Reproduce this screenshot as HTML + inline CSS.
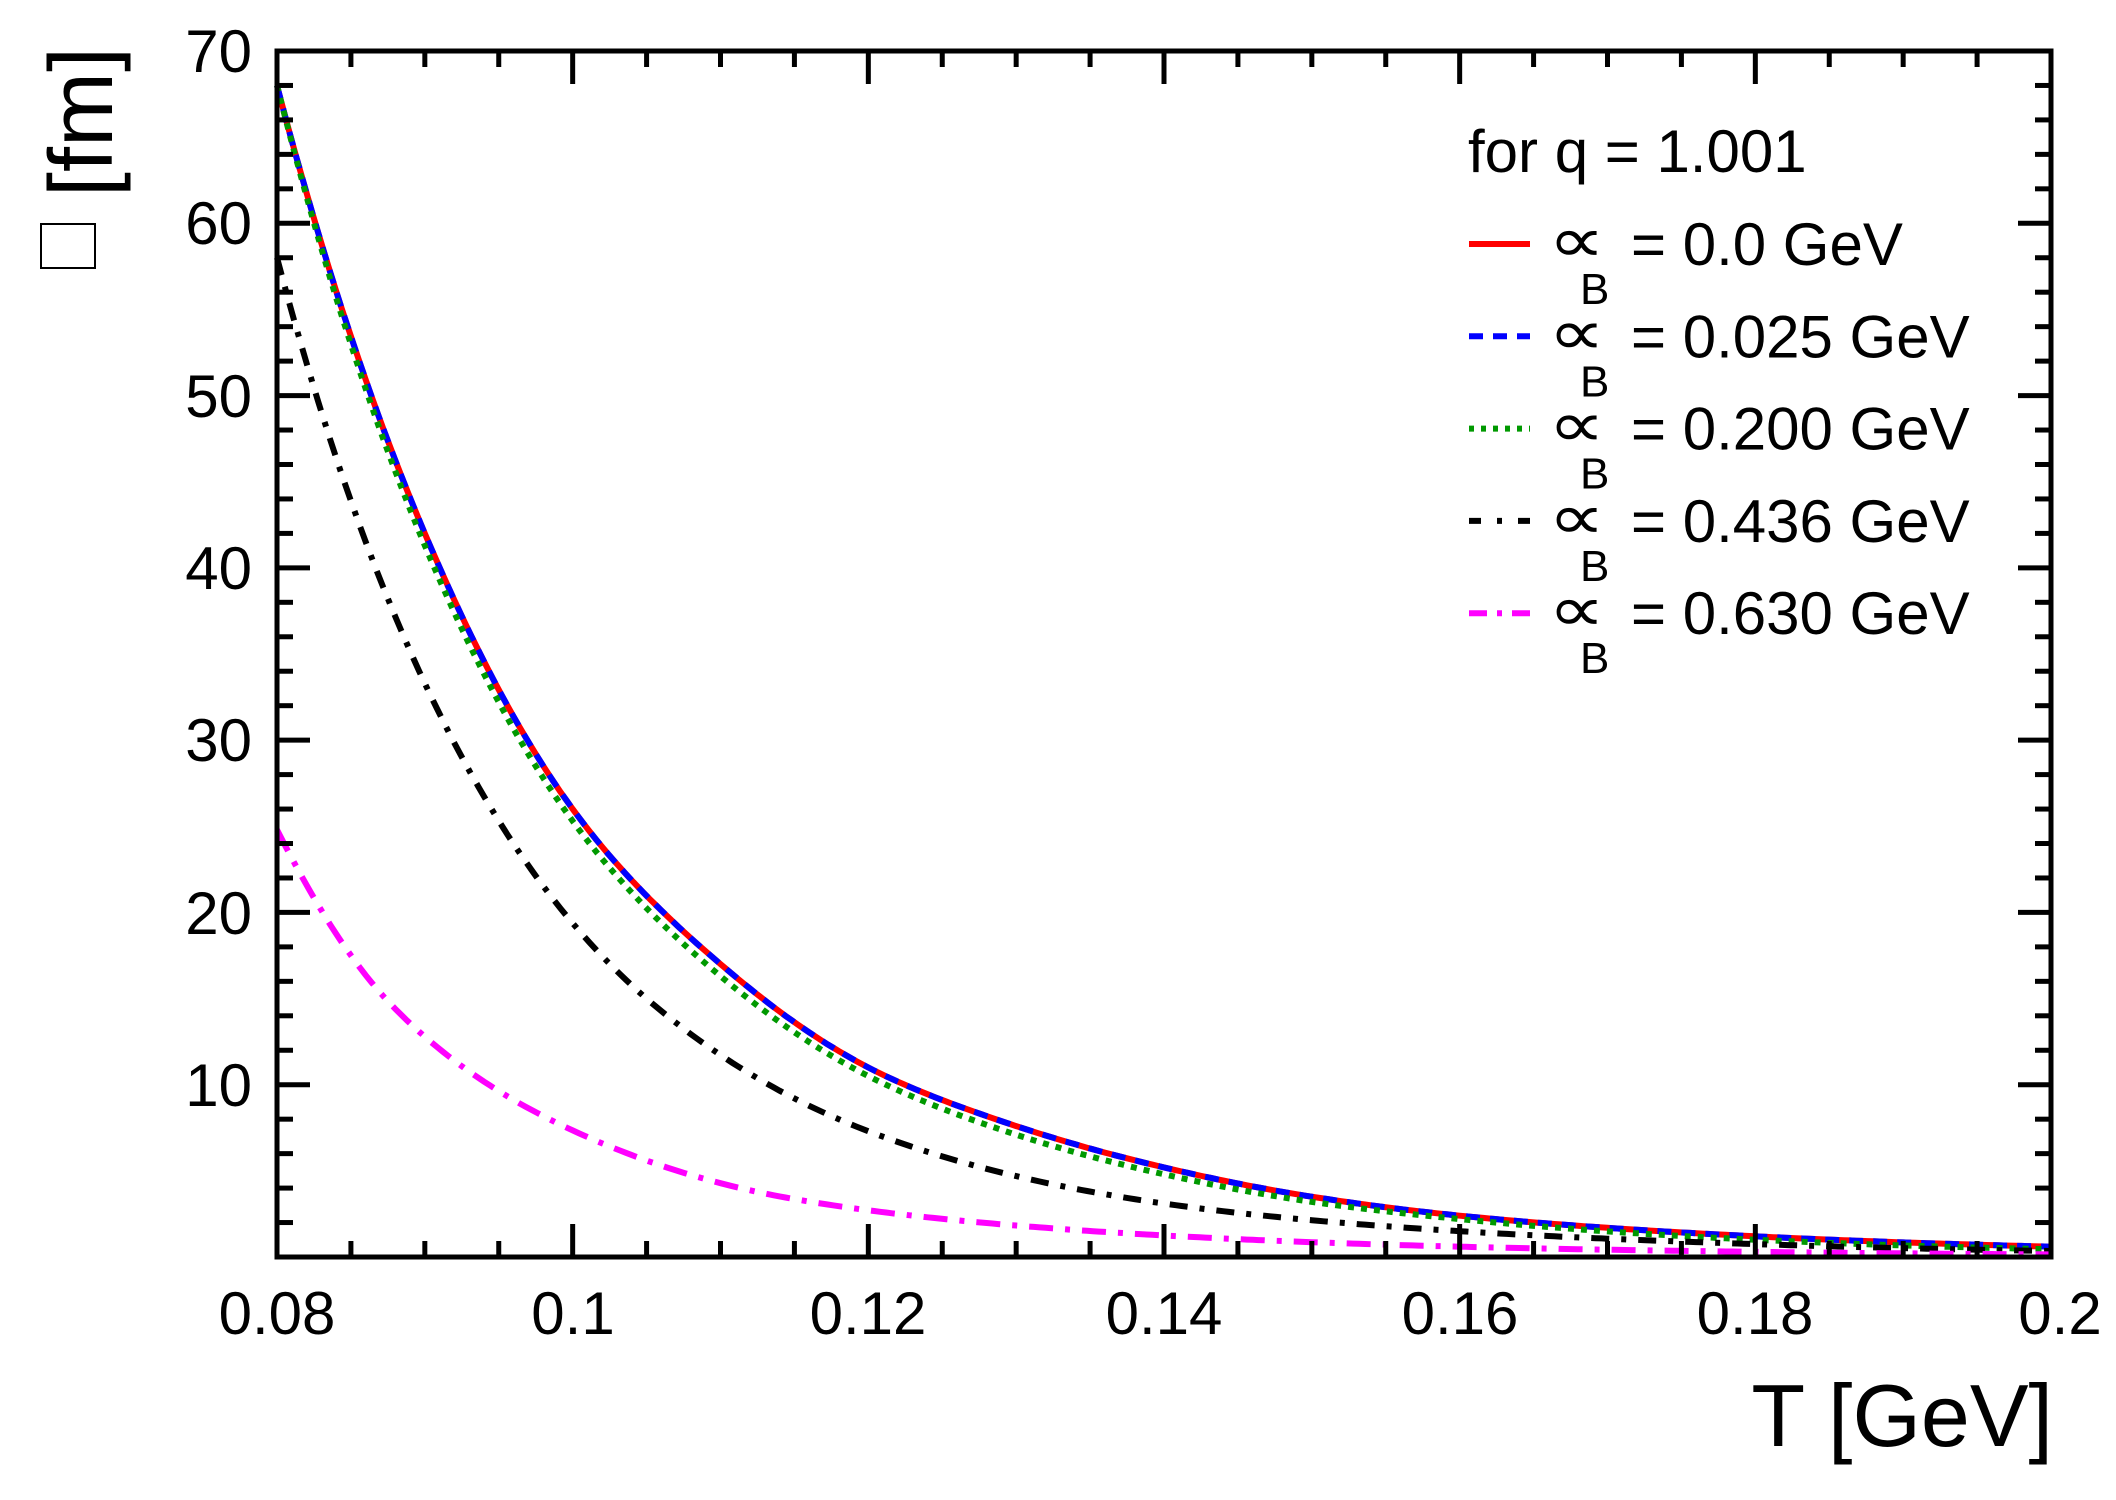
<!DOCTYPE html>
<html><head><meta charset="utf-8"><style>html,body{margin:0;padding:0;background:#fff}svg{display:block}</style></head>
<body>
<svg id="s" width="2116" height="1500" viewBox="0 0 2116 1500" xmlns="http://www.w3.org/2000/svg" font-family="Liberation Sans, Arial, sans-serif">
<rect width="2116" height="1500" fill="#fff"/>
<g id="curves" fill="none" stroke-width="6"></g>
<rect x="277" y="51" width="1774" height="1206" fill="none" stroke="#000" stroke-width="5"/>
<g id="ticks" stroke="#000" stroke-width="5"></g>
<g font-size="60" fill="#000">
<text x="277" y="1334" text-anchor="middle">0.08</text>
<text x="573" y="1334" text-anchor="middle">0.1</text>
<text x="868" y="1334" text-anchor="middle">0.12</text>
<text x="1164" y="1334" text-anchor="middle">0.14</text>
<text x="1460" y="1334" text-anchor="middle">0.16</text>
<text x="1755" y="1334" text-anchor="middle">0.18</text>
<text x="2060" y="1334" text-anchor="middle">0.2</text>
<text x="252" y="1106" text-anchor="end">10</text>
<text x="252" y="934" text-anchor="end">20</text>
<text x="252" y="761" text-anchor="end">30</text>
<text x="252" y="589" text-anchor="end">40</text>
<text x="252" y="417" text-anchor="end">50</text>
<text x="252" y="244" text-anchor="end">60</text>
<text x="252" y="72" text-anchor="end">70</text>
</g>
<text x="2053" y="1446" text-anchor="end" font-size="88">T [GeV]</text>
<text transform="translate(112,47) rotate(-90)" text-anchor="end" font-size="90">[fm]</text>
<rect x="41" y="224" width="54" height="44" fill="#fff" stroke="#000" stroke-width="2"/>
<text x="1468" y="172" font-size="60">for q = 1.001</text>
<g id="leg" font-size="60"></g>
</svg>
<script>
var X0=277,X1=2051,Y0=1257,Y1=51;
function px(t){return X0+(t-0.08)/0.12*(X1-X0);}
function py(v){return Y0-v/70*(Y0-Y1);}
var ticks=document.getElementById('ticks'),h='';
for(var i=0;i<=24;i++){var t=0.08+i*0.005,x=px(t),L=(i%4==0)?33:16;
 h+='<line x1="'+x+'" y1="'+Y0+'" x2="'+x+'" y2="'+(Y0-L)+'"/>';
 h+='<line x1="'+x+'" y1="'+Y1+'" x2="'+x+'" y2="'+(Y1+L)+'"/>';}
for(var j=0;j<=35;j++){var y=py(j*2),L=(j%5==0)?33:16;
 h+='<line x1="'+X0+'" y1="'+y+'" x2="'+(X0+L)+'" y2="'+y+'"/>';
 h+='<line x1="'+X1+'" y1="'+y+'" x2="'+(X1-L)+'" y2="'+y+'"/>';}
ticks.innerHTML=h;
function interp(pts,t){
 var n=pts.length,i=0;while(i<n-2&&t>pts[i+1][0])i++;
 var p0=pts[Math.max(i-1,0)],p1=pts[i],p2=pts[i+1],p3=pts[Math.min(i+2,n-1)];
 var u=(t-p1[0])/(p2[0]-p1[0]);
 var y0=Math.log(p0[1]),y1=Math.log(p1[1]),y2=Math.log(p2[1]),y3=Math.log(p3[1]);
 var m1=(y2-y0)/(p2[0]-p0[0])*(p2[0]-p1[0]),m2=(y3-y1)/(p3[0]-p1[0])*(p2[0]-p1[0]);
 if(i==0)m1=(y2-y1);if(i+2>n-1)m2=(y2-y1);
 var u2=u*u,u3=u2*u;
 var y=(2*u3-3*u2+1)*y1+(u3-2*u2+u)*m1+(-2*u3+3*u2)*y2+(u3-u2)*m2;
 return Math.exp(y);}
var series=[
 {c:'#ff0000',d:'',p:[[0.08,68],[0.09,42],[0.1,26],[0.11,17],[0.12,11],[0.13,7.6],[0.14,5.2],[0.15,3.5],[0.16,2.4],[0.18,1.2],[0.2,0.6]]},
 {c:'#0000ff',d:'14 10',p:null},
 {c:'#009900',d:'6 7',p:[[0.08,68],[0.09,41.3],[0.1,25.3],[0.11,16.3],[0.12,10.5],[0.13,7.1],[0.14,4.8],[0.15,3.2],[0.16,2.2],[0.18,1.0],[0.2,0.45]]},
 {c:'#000000',d:'18 12 5 12',p:[[0.08,58],[0.0876,38],[0.0983,21.2],[0.1061,14.2],[0.12,7.3],[0.14,3.1],[0.16,1.5],[0.18,0.75],[0.2,0.35]]},
 {c:'#ff00ff',d:'24 12 5 12',p:[[0.08,24.8],[0.088,14.4],[0.1009,7.0],[0.1154,3.3],[0.14,1.25],[0.16,0.6],[0.18,0.3],[0.2,0.15]]}];
series[1].p=series[0].p;
var g=document.getElementById('curves'),s='';
series.forEach(function(se){var d='';
 for(var k=0;k<=300;k++){var t=0.08+k*0.12/300;var v=interp(se.p,t);
  d+=(k?'L':'M')+px(t).toFixed(1)+' '+py(v).toFixed(1);}
 s+='<path d="'+d+'" stroke="'+se.c+'"'+(se.d?' stroke-dasharray="'+se.d+'"':'')+'/>';});
g.innerHTML=s;
var labs=['0.0','0.025','0.200','0.436','0.630'],leg=document.getElementById('leg'),l='';
for(var r=0;r<5;r++){var yc=244+r*92.3,se=series[r];
 l+='<line x1="1469" y1="'+yc+'" x2="1530" y2="'+yc+'" stroke="'+se.c+'" stroke-width="6"'+(se.d?' stroke-dasharray="'+(r==1?'14 10':r==2?'5 7':r==3?'12 16 5 16':'18 10 5 10')+'"':'')+'/>';
 l+='<text x="0" y="0" font-size="80" transform="translate(1548,'+(yc+18)+') scale(1,0.8)">&#8733;</text>';
 l+='<text x="1580" y="'+(yc+60)+'" font-size="44">B</text>';
 l+='<text x="1631" y="'+(yc+21)+'">= '+labs[r]+' GeV</text>';}
leg.innerHTML=l;
</script>
</body></html>
